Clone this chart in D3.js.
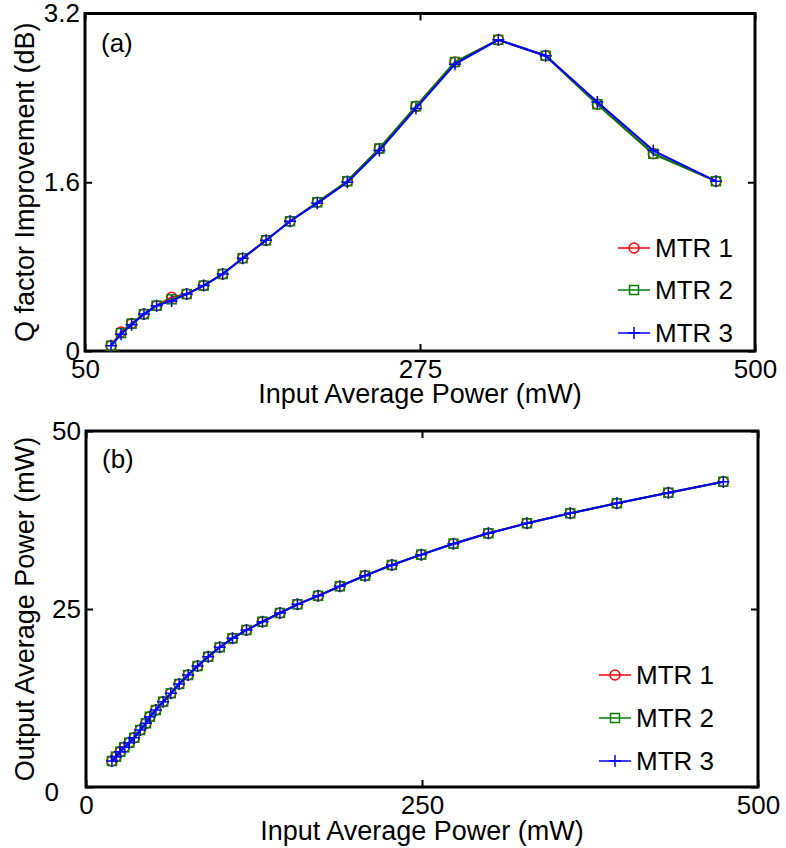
<!DOCTYPE html>
<html>
<head>
<meta charset="utf-8">
<script src="https://cdn.jsdelivr.net/npm/d3@7"></script>
<style>
  body { margin: 0; background: #fff; }
  text { font-family: "Liberation Sans", Arial, Helvetica, sans-serif; fill: #000; }
</style>
</head>
<body>
<div id="chart"></div>
<script>
// Panel (a): Q factor improvement vs input power
const inputA = [67.5, 74.2, 81.3, 89.6, 98.1, 108.2, 118.3, 129.7, 142.5, 155.9, 171.6,
                187.7, 206.0, 226.2, 247.7, 272.3, 298.5, 327.6, 359.4, 394.1, 431.7, 473.8];
const qMtr1 = [0.05, 0.18, 0.26, 0.35, 0.43, 0.51, 0.54, 0.62, 0.73, 0.88, 1.05,
               1.23, 1.41, 1.61, 1.92, 2.32, 2.74, 2.95, 2.80, 2.34, 1.87, 1.61];
const qMtr2 = [0.05, 0.17, 0.26, 0.35, 0.43, 0.49, 0.54, 0.62, 0.73, 0.88, 1.05,
               1.23, 1.41, 1.61, 1.92, 2.32, 2.74, 2.95, 2.80, 2.34, 1.87, 1.61];
const qMtr3 = [0.05, 0.16, 0.25, 0.35, 0.43, 0.475, 0.54, 0.62, 0.73, 0.88, 1.05,
               1.23, 1.40, 1.60, 1.90, 2.30, 2.72, 2.95, 2.80, 2.36, 1.90, 1.61];

// Panel (b): output power vs input power
const inputB = [19.3, 22.3, 25.5, 28.5, 32.2, 35.9, 40.3, 44.6, 47.5, 52.0, 57.4, 63.1,
                69.3, 76.0, 83.0, 90.9, 99.5, 109.0, 119.4, 131.3, 144.3, 157.3, 172.7,
                188.9, 207.6, 227.6, 249.4, 273.4, 299.4, 328.1, 360.3, 395.0, 433.3, 474.2];
const outMtr1 = [3.65, 4.26, 4.96, 5.58, 6.22, 6.92, 8.0, 8.95, 9.87, 10.81, 11.98, 13.16,
                 14.47, 15.73, 16.99, 18.30, 19.62, 20.88, 22.05, 23.22, 24.44, 25.66, 26.85,
                 28.19, 29.68, 31.18, 32.63, 34.17, 35.63, 37.04, 38.44, 39.85, 41.33, 42.88];
const outMtr2 = [3.65, 4.26, 4.96, 5.58, 6.22, 6.92, 8.0, 8.95, 9.87, 10.81, 11.98, 13.16,
                 14.47, 15.73, 16.99, 18.30, 19.62, 20.88, 22.05, 23.22, 24.44, 25.66, 26.85,
                 28.19, 29.68, 31.18, 32.63, 34.17, 35.63, 37.04, 38.44, 39.85, 41.33, 42.88];
const outMtr3 = [3.65, 4.26, 4.96, 5.58, 6.22, 6.92, 8.0, 8.95, 9.87, 10.81, 11.98, 13.16,
                 14.47, 15.73, 16.99, 18.30, 19.62, 20.88, 22.05, 23.22, 24.44, 25.66, 26.85,
                 28.19, 29.68, 31.18, 32.63, 34.17, 35.63, 37.04, 38.44, 39.85, 41.33, 42.88];

const seriesNames = ["MTR 1", "MTR 2", "MTR 3"];
const seriesColors = ["#ff0000", "#008000", "#0000ff"];
const seriesMarkers = ["circle", "square", "plus"];

const xTicksA = [50, 275, 500], yTicksA = [0, 1.6, 3.2];
const xTicksB = [0, 250, 500], yTicksB = [0, 25, 50];

const svg = d3.select("#chart").append("svg")
    .attr("width", 786)
    .attr("height", 848);

svg.append("rect").attr("width", 786).attr("height", 848).attr("fill", "#fff");

function drawMarker(g, type, color, cx, cy) {
    if (type === "circle") {
        g.append("circle").attr("cx", cx).attr("cy", cy).attr("r", 5)
            .attr("fill", "none").attr("stroke", color).attr("stroke-width", 1.5);
    } else if (type === "square") {
        g.append("rect").attr("x", cx - 4.5).attr("y", cy - 4.5).attr("width", 9).attr("height", 9)
            .attr("fill", "none").attr("stroke", color).attr("stroke-width", 1.5);
    } else {
        g.append("path").attr("d", `M${cx - 6},${cy}H${cx + 6}M${cx},${cy - 6}V${cy + 6}`)
            .attr("stroke", color).attr("stroke-width", 1.5);
    }
}

function panel(cfg) {
    const { left, right, top, bottom } = cfg.box;
    const x = d3.scaleLinear().domain(cfg.xDomain).range([left, right]);
    const y = d3.scaleLinear().domain(cfg.yDomain).range([bottom, top]);
    const g = svg.append("g");

    // ticks point inwards on all four sides
    const axB = g.append("g").attr("transform", `translate(0,${bottom})`)
        .call(d3.axisBottom(x).tickValues(cfg.xTicks).tickSize(-7).tickPadding(9).tickFormat(d3.format("")));
    g.append("g").attr("transform", `translate(0,${top})`)
        .call(d3.axisTop(x).tickValues(cfg.xTicks).tickSize(-7).tickFormat(""));
    const axL = g.append("g").attr("transform", `translate(${left},0)`)
        .call(d3.axisLeft(y).tickValues(cfg.yTicks).tickSize(-7).tickPadding(5).tickFormat(d3.format("")));
    g.append("g").attr("transform", `translate(${right},0)`)
        .call(d3.axisRight(y).tickValues(cfg.yTicks).tickSize(-7).tickFormat(""));

    g.selectAll(".domain").remove();
    g.selectAll(".tick line").attr("stroke", "#000").attr("stroke-width", 2);
    g.selectAll(".tick text").attr("font-size", 26).attr("fill", "#000")
        .style("font-family", '"Liberation Sans", Arial, sans-serif');
    if (cfg.shiftYZero) {
        axL.selectAll(".tick text").filter(d => d === 0).attr("dx", -22).attr("dy", "0.5em");
    }

    g.append("rect").attr("x", left).attr("y", top)
        .attr("width", right - left).attr("height", bottom - top)
        .attr("fill", "none").attr("stroke", "#000").attr("stroke-width", 3);

    const line = d3.line().x(d => x(d[0])).y(d => y(d[1]));
    cfg.series.forEach((vals, i) => {
        const pts = cfg.xs.map((v, j) => [v, vals[j]]);
        g.append("path").datum(pts).attr("d", line)
            .attr("fill", "none").attr("stroke", seriesColors[i]).attr("stroke-width", 2);
        const mg = g.append("g");
        pts.forEach(p => drawMarker(mg, seriesMarkers[i], seriesColors[i], x(p[0]), y(p[1])));
    });

    // panel label
    g.append("text").attr("x", left + 16).attr("y", cfg.labelY)
        .attr("font-size", 26).text(cfg.label);

    // axis titles
    g.append("text").attr("x", (left + right) / 2).attr("y", cfg.xTitleY)
        .attr("text-anchor", "middle").attr("font-size", 27).text(cfg.xTitle);
    g.append("text").attr("transform", `translate(34,${(top + bottom) / 2}) rotate(-90)`)
        .attr("text-anchor", "middle").attr("font-size", 27).text(cfg.yTitle);

    // legend
    const lg = g.append("g");
    seriesNames.forEach((name, i) => {
        const ly = cfg.legend.y[i], lx = cfg.legend.x;
        lg.append("line").attr("x1", lx).attr("x2", lx + 32).attr("y1", ly).attr("y2", ly)
            .attr("stroke", seriesColors[i]).attr("stroke-width", 1.5);
        drawMarker(lg, seriesMarkers[i], seriesColors[i], lx + 16, ly);
        lg.append("text").attr("x", lx + 37).attr("y", ly).attr("dy", "0.36em")
            .attr("font-size", 26).text(name);
    });
}

panel({
    box: { left: 85, right: 755, top: 13.5, bottom: 351 },
    xDomain: [50, 500], yDomain: [0, 3.2],
    xTicks: xTicksA, yTicks: yTicksA,
    xs: inputA, series: [qMtr1, qMtr2, qMtr3],
    label: "(a)", labelY: 52,
    xTitle: "Input Average Power (mW)", xTitleY: 403,
    yTitle: "Q factor Improvement (dB)",
    legend: { x: 618, y: [248, 290, 333] }
});

panel({
    box: { left: 86, right: 758, top: 431, bottom: 787 },
    xDomain: [0, 500], yDomain: [0, 50],
    xTicks: xTicksB, yTicks: yTicksB,
    xs: inputB, series: [outMtr1, outMtr2, outMtr3],
    label: "(b)", labelY: 468,
    xTitle: "Input Average Power (mW)", xTitleY: 840,
    yTitle: "Output Average Power (mW)",
    legend: { x: 599, y: [675, 718, 761] },
    shiftYZero: true
});
</script>
</body>
</html>
